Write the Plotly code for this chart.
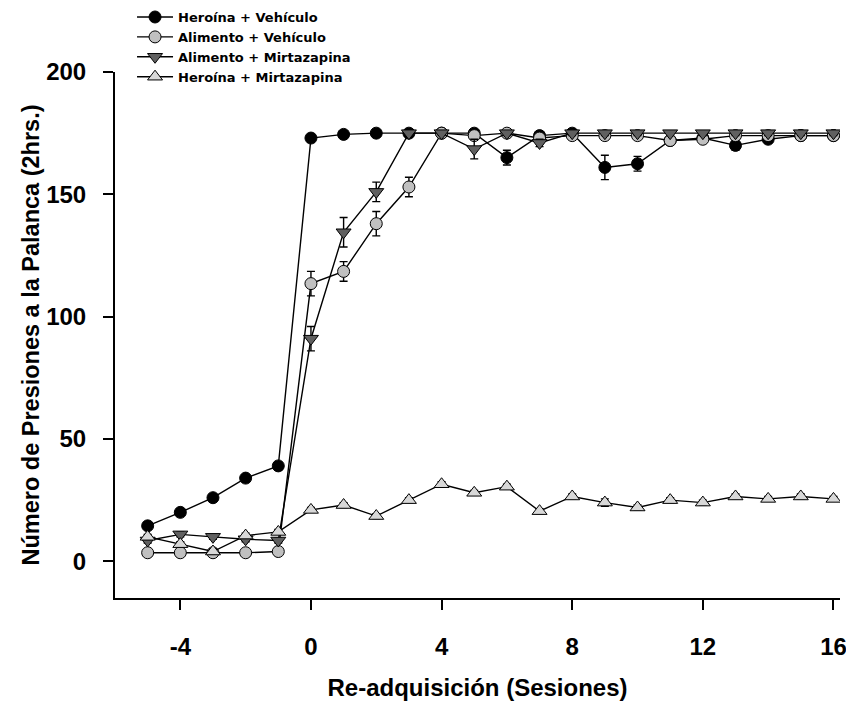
import plotly.graph_objects as go

sessions = list(range(-5, 17))

heroina_vehiculo = [14.5, 20, 26, 34, 39, 173, 174.5, 175, 175, 175, 175, 165, 174, 175, 161, 162.5, 172, 173, 170, 172.5, 174, 174]
heroina_vehiculo_err = [1, 1, 1, 1, 1.5, 1, 1, 1, 1, 1, 1, 3, 1, 1, 5, 3, 1, 1, 2, 1, 1, 1]

alimento_vehiculo = [3.5, 3.5, 3.5, 3.5, 4, 113.5, 118.5, 138, 153, 175, 174, 175, 173, 174, 174, 174, 172, 172.5, 174, 174, 174, 174]
alimento_vehiculo_err = [1, 1, 1, 1, 1, 5, 4, 5, 4, 1, 1, 1, 1, 1, 1, 1, 1, 1, 1, 1, 1, 1]

alimento_mirtazapina = [8.5, 11, 10, 9, 8.5, 91, 134.5, 151, 175, 175, 168.5, 175, 171, 175, 175, 175, 175, 175, 175, 175, 175, 175]
alimento_mirtazapina_err = [1, 1, 1, 1, 1, 5, 6, 4, 1, 1, 4, 1, 1.5, 1, 1, 1, 1, 1, 1, 1, 1, 1]

heroina_mirtazapina = [10, 7, 4, 10.5, 12, 21, 23, 18.5, 25, 31.5, 28, 30.5, 20.5, 26.5, 24, 22, 25, 24, 26.5, 25.5, 26.5, 25.5]
heroina_mirtazapina_err = [1, 1, 1, 1, 1, 1, 1, 1, 1, 1, 1, 1, 1, 1, 1.5, 1, 1, 1, 1, 1, 1, 1]

x_tickvals = [-4, 0, 4, 8, 12, 16]
x_ticktext = ["-4", "0", "4", "8", "12", "16"]
y_tickvals = [0, 50, 100, 150, 200]

series = [
    ("Heroína + Vehículo", heroina_vehiculo, heroina_vehiculo_err, "circle", "#000000", 12),
    ("Alimento + Vehículo", alimento_vehiculo, alimento_vehiculo_err, "circle", "#c0c0c0", 12),
    ("Alimento + Mirtazapina", alimento_mirtazapina, alimento_mirtazapina_err, "triangle-down", "#606060", 13),
    ("Heroína + Mirtazapina", heroina_mirtazapina, heroina_mirtazapina_err, "triangle-up", "#d8d8d8", 13),
]

FONT = "Liberation Sans, Arial, sans-serif"
LEGFONT = "DejaVu Sans, Verdana, sans-serif"

fig = go.Figure()
for name, vals, errs, sym, col, size in series:
    fig.add_trace(go.Scatter(
        x=sessions, y=vals, name=name, mode="lines+markers",
        line=dict(color="#000000", width=1.4),
        marker=dict(symbol=sym, color=col, size=size, line=dict(color="#000000", width=1)),
        error_y=dict(type="data", array=errs, visible=True, color="#000000", thickness=1.4, width=4),
    ))

fig.update_layout(
    width=846, height=705,
    paper_bgcolor="white", plot_bgcolor="white",
    margin=dict(l=107, r=14, t=64, b=115, autoexpand=False),
    font=dict(family=FONT, color="#000000"),
    showlegend=True,
    legend=dict(
        x=0.0235, y=1.133, xanchor="left", yanchor="top",
        font=dict(family=LEGFONT, size=13, color="#000000", weight="bold"),
        bgcolor="rgba(0,0,0,0)", borderwidth=0, tracegroupgap=0, itemwidth=36,
    ),
    xaxis=dict(
        range=[-6, 16.2], tickmode="array", tickvals=x_tickvals, ticktext=x_ticktext,
        showgrid=False, zeroline=False, showline=True, linecolor="#000000", linewidth=2,
        ticks="outside", ticklen=10, tickwidth=2, tickcolor="#000000",
        tickfont=dict(family=FONT, size=24, weight="bold"),
        ticklabelstandoff=16, automargin=False,
        title=dict(text="Re-adquisición (Sesiones)", font=dict(family=FONT, size=24, weight="bold"), standoff=20),
    ),
    yaxis=dict(
        range=[-15, 200], tickmode="array", tickvals=y_tickvals,
        showgrid=False, zeroline=False, showline=True, linecolor="#000000", linewidth=2,
        ticks="outside", ticklen=10, tickwidth=2, tickcolor="#000000",
        tickfont=dict(family=FONT, size=24, weight="bold"),
        ticklabelstandoff=12, automargin=False,
        title=dict(text="Número de Presiones a la Palanca (2hrs.)", font=dict(family=FONT, size=23.5, weight="bold"), standoff=0),
    ),
)

fig.write_html("out.html")
